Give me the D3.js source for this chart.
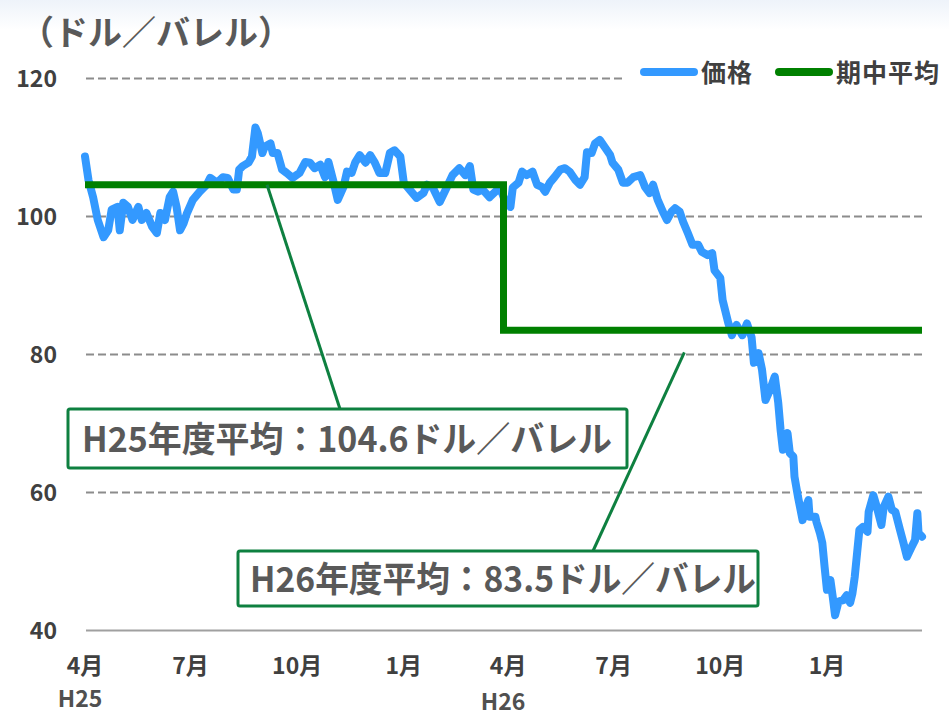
<!DOCTYPE html>
<html><head><meta charset="utf-8">
<script src="https://cdn.jsdelivr.net/npm/d3@7"></script>
<style>body{margin:0;background:#fff;}svg{display:block;}</style>
</head><body>
<svg id="c" width="949" height="718"></svg>
<script>
// ---- data ----
const priceDates = ["2013-04-01","2013-04-04","2013-04-08","2013-04-12","2013-04-17","2013-04-21","2013-04-24","2013-04-29","2013-05-01","2013-05-04","2013-05-08","2013-05-12","2013-05-17","2013-05-20","2013-05-24","2013-05-29","2013-06-02","2013-06-05","2013-06-09","2013-06-13","2013-06-16","2013-06-19","2013-06-22","2013-06-25","2013-06-28","2013-07-03","2013-07-09","2013-07-15","2013-07-18","2013-07-24","2013-07-29","2013-08-02","2013-08-07","2013-08-10","2013-08-12","2013-08-15","2013-08-20","2013-08-23","2013-08-26","2013-08-28","2013-09-01","2013-09-03","2013-09-08","2013-09-10","2013-09-14","2013-09-18","2013-09-22","2013-09-27","2013-10-03","2013-10-08","2013-10-12","2013-10-16","2013-10-21","2013-10-25","2013-10-28","2013-11-01","2013-11-05","2013-11-10","2013-11-13","2013-11-17","2013-11-20","2013-11-24","2013-11-29","2013-12-03","2013-12-07","2013-12-11","2013-12-16","2013-12-20","2013-12-24","2013-12-29","2014-01-01","2014-01-06","2014-01-12","2014-01-18","2014-01-21","2014-01-26","2014-02-01","2014-02-07","2014-02-12","2014-02-18","2014-02-23","2014-02-27","2014-03-02","2014-03-06","2014-03-10","2014-03-16","2014-03-21","2014-03-25","2014-03-29","2014-04-03","2014-04-05","2014-04-10","2014-04-13","2014-04-17","2014-04-22","2014-04-26","2014-04-30","2014-05-03","2014-05-07","2014-05-11","2014-05-16","2014-05-20","2014-05-24","2014-05-29","2014-06-02","2014-06-06","2014-06-08","2014-06-12","2014-06-15","2014-06-19","2014-06-24","2014-06-28","2014-06-30","2014-07-05","2014-07-09","2014-07-13","2014-07-18","2014-07-24","2014-07-28","2014-08-01","2014-08-04","2014-08-08","2014-08-13","2014-08-16","2014-08-20","2014-08-23","2014-08-27","2014-08-30","2014-09-03","2014-09-07","2014-09-12","2014-09-15","2014-09-20","2014-09-24","2014-09-26","2014-10-01","2014-10-03","2014-10-08","2014-10-11","2014-10-15","2014-10-20","2014-10-24","2014-10-28","2014-10-30","2014-11-03","2014-11-06","2014-11-09","2014-11-13","2014-11-17","2014-11-20","2014-11-22","2014-11-24","2014-11-28","2014-11-30","2014-12-03","2014-12-04","2014-12-07","2014-12-11","2014-12-13","2014-12-16","2014-12-17","2014-12-22","2014-12-23","2014-12-26","2014-12-28","2014-12-30","2015-01-01","2015-01-04","2015-01-06","2015-01-08","2015-01-11","2015-01-15","2015-01-18","2015-01-21","2015-01-23","2015-01-25","2015-01-27","2015-01-29","2015-02-01","2015-02-05","2015-02-06","2015-02-10","2015-02-13","2015-02-17","2015-02-19","2015-02-23","2015-02-26","2015-03-01","2015-03-05","2015-03-08","2015-03-11","2015-03-15","2015-03-18","2015-03-20","2015-03-21","2015-03-24"];
const priceValues = [108.7,105.3,102.8,99.5,97,98,101,101.4,98,102,101.4,99.5,101.4,99.5,100.5,98.5,97.6,100.5,99.5,102.8,103.6,101.4,98,99,100.5,102.4,103.6,104.6,105.6,104.9,105.7,105.6,103.9,103.9,106.8,107.3,107.8,108.7,112.9,112.1,109.2,110.1,110.6,109.2,109.2,106.8,106.3,105.6,106.3,107.9,107.8,107,107.5,105.7,107.9,105.3,102.4,104.3,106.5,106.3,107.8,108.9,107.8,108.9,107.8,106.3,106.3,109.2,109.6,108.7,104.9,103.9,102.7,103.4,104.6,104.2,102.1,104.2,106,107,106,107.3,103.9,103.6,103.9,102.8,103.6,104.2,102.4,101.4,104.2,104.9,106.5,106,106.5,104.6,104.3,103.6,104.9,105.7,106.8,107,106.5,105.3,104.6,105.7,109.3,109.2,110.6,111.1,109.9,108.9,107.8,106.8,104.9,104.9,105.7,106,104.3,103.4,104.6,102.4,100.5,99.5,100.7,101.2,100.7,99.2,97.6,95.9,95.9,94.9,94.4,94.7,92.2,91.1,87.9,84.5,82.8,84.3,82.8,84.5,82.5,78.8,80.2,77.8,73.4,74.9,76.8,73,69.1,66.2,68.6,65.7,65.2,62.3,59.4,56,57.5,58.9,56.5,56.5,55.7,54.1,52.7,49.2,45.9,47.3,44.9,42.2,44.2,44.4,45.1,44,45.4,47.8,51.2,54.6,55,54.3,57.2,59.6,57.9,55.3,57.9,59.4,57.5,57.2,54.6,52.7,50.7,52.1,53.1,57,54.1,53.6];
const fiscalYears = ["H25","H26"];
const fyStart = ["2013-04-01","2014-03-28"];
const fyEnd = ["2014-03-28","2015-03-24"];
const fyAverage = [104.6, 83.5];
const yTicks = [40, 60, 80, 100, 120];
const xTickDates = ["2013-04-01","2013-07-01","2013-10-01","2014-01-01","2014-04-01","2014-07-01","2014-10-01","2015-01-01"];
const xTickLabels = ["4月","7月","10月","1月","4月","7月","10月","1月"];
const yearLabels = ["H25","H26"];
const yearLabelDates = ["2013-04-01","2014-04-01"];
const seriesNames = ["価格","期中平均"];
const titleText = "（ドル／バレル）";
const noteTexts = ["H25年度平均：104.6ドル／バレル","H26年度平均：83.5ドル／バレル"];
const noteAnchorDates = ["2013-09-05","2014-08-31"];
const noteAnchorValues = [104.6, 80.3];

// ---- setup ----
const parse = d3.timeParse("%Y-%m-%d");
const svg = d3.select("#c");
const FONT = "'Noto Sans CJK JP','Noto Sans',sans-serif";
const BLUE = "#3399ff", GREEN = "#008000", BOXG = "#0e8040";

const defs = svg.append("defs");
const grad = defs.append("linearGradient").attr("id","topg").attr("x1",0).attr("y1",0).attr("x2",0).attr("y2",1);
grad.append("stop").attr("offset","0%").attr("stop-color","#eef3fa");
grad.append("stop").attr("offset","100%").attr("stop-color","#ffffff");
svg.append("rect").attr("x",0).attr("y",0).attr("width",949).attr("height",30).attr("fill","url(#topg)");

const x = d3.scaleTime().domain([parse("2013-04-01"), parse("2015-03-24")]).range([85, 922]);
const y = d3.scaleLinear().domain([40, 120]).range([630.5, 78.5]);

// gridlines
svg.append("g").selectAll("line").data(yTicks.filter(v => v > 40)).join("line")
  .attr("x1", 86).attr("x2", 922)
  .attr("y1", d => y(d)).attr("y2", d => y(d))
  .attr("stroke", "#8c8c8c").attr("stroke-width", 2).attr("stroke-dasharray", "8,4");
svg.append("line").attr("x1", 86).attr("x2", 922).attr("y1", y(40)).attr("y2", y(40))
  .attr("stroke", "#a0a0a0").attr("stroke-width", 2);

// y tick labels
svg.append("g").selectAll("text").data(yTicks).join("text")
  .attr("x", 57).attr("y", d => y(d) + 8.5)
  .attr("text-anchor", "end").attr("font-family", FONT).attr("font-weight", "bold")
  .attr("font-size", 23).attr("fill", "#404040").text(d => d);

// x tick labels
svg.append("g").selectAll("text").data(xTickDates).join("text")
  .attr("x", d => x(parse(d))).attr("y", 674)
  .attr("text-anchor", "middle").attr("font-family", FONT).attr("font-weight", "bold")
  .attr("font-size", 23).attr("fill", "#404040").text((d, i) => xTickLabels[i]);
svg.append("g").selectAll("text").data(yearLabelDates).join("text")
  .attr("x", (d, i) => x(parse(d)) - 5).attr("y", (d, i) => i === 0 ? 707 : 710)
  .attr("text-anchor", "middle").attr("font-family", FONT).attr("font-weight", "bold")
  .attr("font-size", 23).attr("fill", "#505050").text((d, i) => yearLabels[i]);

// title
svg.append("text").attr("x", 20).attr("y", 45).attr("font-family", FONT).attr("font-weight", "bold")
  .attr("font-size", 34).attr("fill", "#595959").text(titleText);

// price line
const priceData = priceDates.map((d, i) => ({date: parse(d), value: priceValues[i]}));
svg.append("path").datum(priceData)
  .attr("fill", "none").attr("stroke", BLUE).attr("stroke-width", 8)
  .attr("stroke-linejoin", "round").attr("stroke-linecap", "round")
  .attr("d", d3.line().x(d => x(d.date)).y(d => y(d.value)));

// fiscal-year average step line
const avgData = [];
fiscalYears.forEach((fy, i) => {
  avgData.push({date: parse(fyStart[i]), value: fyAverage[i]});
  avgData.push({date: parse(fyEnd[i]), value: fyAverage[i]});
});
svg.append("path").datum(avgData)
  .attr("fill", "none").attr("stroke", GREEN).attr("stroke-width", 7)
  .attr("stroke-linejoin", "miter")
  .attr("d", d3.line().x(d => x(d.date)).y(d => y(d.value)));

// annotations
const boxes = [{x: 68, y: 409, w: 559, h: 59, tx: 82, ty: 452, tl: 530, lx: 340},
               {x: 238, y: 551, w: 520, h: 55, tx: 250, ty: 592, tl: 506, lx: 593}];
boxes.forEach((b, i) => {
  svg.append("line")
    .attr("x1", x(parse(noteAnchorDates[i]))).attr("y1", y(noteAnchorValues[i]))
    .attr("x2", b.lx).attr("y2", b.y)
    .attr("stroke", BOXG).attr("stroke-width", 3);
  svg.append("rect").attr("x", b.x).attr("y", b.y).attr("width", b.w).attr("height", b.h)
    .attr("fill", "#fff").attr("stroke", BOXG).attr("stroke-width", 3).attr("rx", 2);
  svg.append("text").attr("x", b.tx).attr("y", b.ty).attr("font-family", FONT).attr("font-weight", "bold")
    .attr("font-size", 35).attr("fill", "#595959")
    .attr("textLength", b.tl).attr("lengthAdjust", "spacingAndGlyphs").text(noteTexts[i]);
});

// legend
const lg = svg.append("g");
lg.append("rect").attr("x", 622).attr("y", 58).attr("width", 327).attr("height", 30).attr("fill", "#fff");
const legendItems = [{x: 640, color: BLUE}, {x: 775, color: GREEN}];
legendItems.forEach((it, i) => {
  lg.append("line").attr("x1", it.x + 4).attr("x2", it.x + 54).attr("y1", 72).attr("y2", 72)
    .attr("stroke", it.color).attr("stroke-width", 8).attr("stroke-linecap", "round");
  lg.append("text").attr("x", it.x + 61).attr("y", 82).attr("font-family", FONT).attr("font-weight", "bold")
    .attr("font-size", 25).attr("letter-spacing", 1).attr("fill", "#404040").text(seriesNames[i]);
});
</script>
</body></html>
